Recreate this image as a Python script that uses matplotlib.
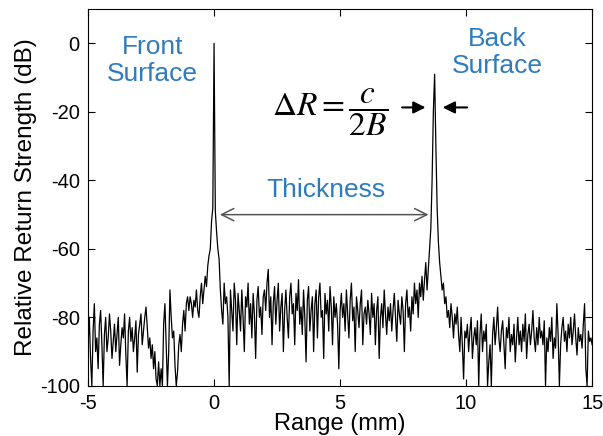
import matplotlib

matplotlib.use("Agg")
import matplotlib.pyplot as plt
import numpy as np

plt.rcParams["font.family"] = ["Liberation Sans", "DejaVu Sans"]
plt.rcParams["mathtext.fontset"] = "stix"
plt.rcParams["axes.unicode_minus"] = False

# range samples every 0.05 mm from -5 to 15
RANGE_START = -5.0
RANGE_STEP = 0.05

# relative return strength (dB), one row per mm
SEG_M5 = [-88, -80, -92, -100, -84, -76, -90, -86, -95, -82, -78, -88, -100, -85, -80, -90, -86, -79, -84, -92]
SEG_M4 = [-87, -82, -90, -85, -80, -94, -88, -83, -86, -79, -91, -100, -84, -80, -87, -83, -90, -86, -81, -96]
SEG_M3 = [-85, -82, -79, -88, -84, -80, -77, -83, -89, -86, -92, -88, -95, -90, -98, -100, -93, -100, -95, -100]
SEG_M2 = [-82, -76, -88, -100, -90, -72, -80, -86, -84, -94, -100, -96, -88, -85, -90, -82, -78, -84, -76, -74]
SEG_M1 = [-78, -74, -76, -80, -75, -77, -72, -78, -80, -74, -70, -76, -72, -68, -71, -65, -62, -60, -52, -48]
SEG_0 = [0, -49, -55, -60, -63, -72, -78, -82, -70, -76, -74, -80, -100, -72, -78, -84, -70, -75, -88, -73]
SEG_1 = [-78, -84, -72, -80, -90, -74, -77, -70, -82, -76, -86, -73, -79, -92, -75, -71, -80, -77, -85, -74]
SEG_2 = [-72, -78, -70, -66, -80, -74, -88, -76, -71, -82, -75, -70, -84, -77, -73, -90, -78, -72, -80, -86]
SEG_3 = [-74, -70, -79, -76, -88, -73, -78, -69, -82, -77, -85, -72, -80, -93, -75, -71, -84, -78, -74, -90]
SEG_4 = [-76, -72, -86, -74, -70, -80, -78, -92, -73, -79, -75, -84, -71, -77, -88, -74, -80, -76, -82, -95]
SEG_5 = [-78, -73, -80, -76, -84, -72, -79, -86, -75, -70, -81, -77, -90, -74, -78, -83, -76, -72, -88, -79]
SEG_6 = [-77, -82, -75, -79, -85, -73, -80, -76, -88, -78, -74, -92, -80, -76, -83, -72, -79, -85, -77, -81]
SEG_7 = [-76, -84, -78, -73, -80, -87, -75, -79, -82, -74, -78, -90, -76, -72, -80, -77, -84, -74, -79, -70]
SEG_8 = [-76, -72, -80, -70, -74, -68, -75, -69, -64, -72, -66, -60, -54, -40, -20, -9, -30, -48, -58, -64]
SEG_9 = [-68, -72, -70, -76, -74, -80, -78, -83, -76, -80, -86, -79, -82, -77, -85, -90, -80, -88, -98, -84]
SEG_10 = [-86, -82, -90, -84, -80, -92, -86, -83, -88, -81, -100, -85, -79, -90, -84, -87, -82, -100, -93, -88]
SEG_11 = [-100, -85, -80, -88, -83, -77, -86, -90, -84, -81, -88, -95, -83, -86, -80, -90, -85, -88, -82, -93]
SEG_12 = [-86, -80, -88, -84, -90, -82, -87, -79, -92, -85, -82, -88, -84, -78, -86, -90, -83, -88, -80, -86]
SEG_13 = [-84, -88, -81, -100, -86, -90, -83, -87, -80, -92, -86, -89, -76, -85, -100, -88, -83, -80, -87, -84]
SEG_14 = [-90, -82, -86, -80, -88, -84, -79, -86, -91, -83, -87, -85, -89, -82, -76, -95, -100, -84, -87, -86, -88]

XTICKS = [-5, 0, 5, 10, 15]
YTICKS = [0, -20, -40, -60, -80, -100]
BLUE = "#2e7bbf"


def main() -> None:
    segments = [SEG_M5, SEG_M4, SEG_M3, SEG_M2, SEG_M1, SEG_0, SEG_1, SEG_2, SEG_3, SEG_4,
                SEG_5, SEG_6, SEG_7, SEG_8, SEG_9, SEG_10, SEG_11, SEG_12, SEG_13, SEG_14]
    y = np.concatenate([np.array(s, dtype=float) for s in segments])
    x = RANGE_START + RANGE_STEP * np.arange(len(y))

    fig = plt.figure(figsize=(6.03, 4.36), dpi=100)
    ax = fig.add_axes([0.146, 0.115, 0.836, 0.864])
    ax.plot(x, y, color="black", linewidth=0.9)

    ax.set_xlim(-5, 15)
    ax.set_ylim(-100, 10)
    ax.set_xticks(XTICKS)
    ax.set_yticks(YTICKS)
    ax.tick_params(direction="in", length=5, width=0.8, top=True, right=True, labelsize=14.5, pad=6)
    for sp in ax.spines.values():
        sp.set_linewidth(0.8)
    ax.set_xlabel("Range (mm)", fontsize=17, labelpad=0)
    ax.set_ylabel("Relative Return Strength (dB)", fontsize=17.5, labelpad=2)

    ax.text(-2.45, -5.0, "Front\nSurface", color=BLUE, fontsize=19, ha="center", va="center",
            linespacing=1.15)
    ax.text(11.25, -2.6, "Back\nSurface", color=BLUE, fontsize=19, ha="center", va="center",
            linespacing=1.15)
    ax.text(4.45, -42.8, "Thickness", color=BLUE, fontsize=19, ha="center", va="center")

    # thickness double arrow
    ax.annotate("", xy=(8.62, -50), xytext=(0.12, -50),
                arrowprops=dict(arrowstyle="<->", color="#555555", lw=1.1, mutation_scale=22))

    ax.text(2.3, -20.0, r"$\Delta R = \dfrac{c}{2B}$", fontsize=24, ha="left", va="center")
    ax.annotate("", xy=(8.5, -18.7), xytext=(7.35, -18.7),
                arrowprops=dict(arrowstyle="-|>", color="black", lw=1.5, mutation_scale=18))
    ax.annotate("", xy=(8.96, -18.7), xytext=(10.15, -18.7),
                arrowprops=dict(arrowstyle="-|>", color="black", lw=1.5, mutation_scale=18))

    fig.savefig("out.png", dpi=100)
    plt.close(fig)


if __name__ == "__main__":
    main()
